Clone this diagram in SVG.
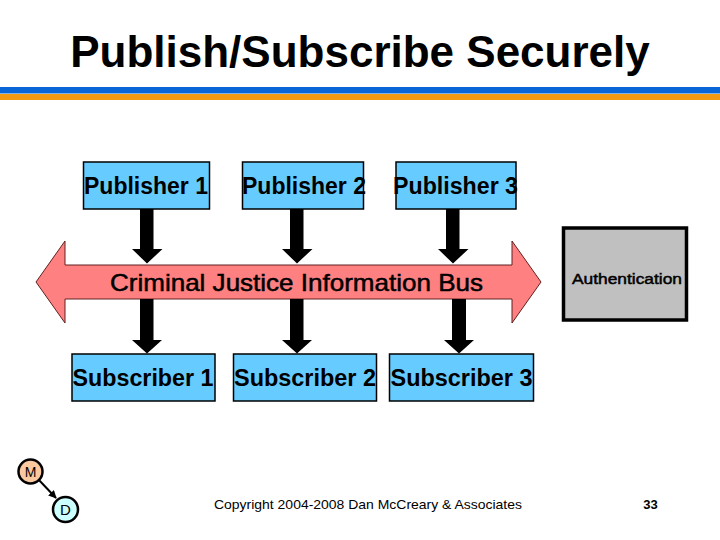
<svg xmlns="http://www.w3.org/2000/svg" width="720" height="540" viewBox="0 0 720 540">
<style>
text{font-family:"Liberation Sans",Arial,sans-serif;fill:#000}
.box{fill:#66CCFF;stroke:#000;stroke-width:1.5}
.lbl{font-size:23px;font-weight:bold}
.arr{fill:#000}
.med{stroke:#000;stroke-width:0.5}
</style>
<defs>
<marker id="ah" viewBox="0 0 10 10" refX="9" refY="5" markerWidth="4" markerHeight="4" orient="auto"><path d="M0,0L10,5L0,10z" fill="#000"/></marker>
</defs>
<rect width="720" height="540" fill="#fff"/>
<text x="360" y="67" font-size="44" font-weight="bold" text-anchor="middle">Publish/Subscribe Securely</text>
<rect x="0" y="87" width="720" height="6.5" fill="#0A66D6"/>
<rect x="0" y="94" width="720" height="6" fill="#F39A12"/>

<g id="bus">
<polygon points="36,282 65,241 65,265 512,265 512,241 541,282 512,323 512,299 65,299 65,323" fill="#FF8080" stroke="#602020" stroke-width="1"/>
<text class="med" x="110" y="291" font-size="24" textLength="373" lengthAdjust="spacingAndGlyphs">Criminal Justice Information Bus</text>
</g>

<g id="auth">
<rect x="563.5" y="228" width="123" height="92" fill="#C0C0C0" stroke="#000" stroke-width="3.5"/>
<text class="med" x="572" y="284" font-size="15.5" stroke-width="0.3" textLength="110" lengthAdjust="spacingAndGlyphs">Authentication</text>
</g>

<g id="pub1"><rect class="box" x="83.5" y="162" width="126" height="47"/><text class="lbl" x="84" y="194" textLength="124" lengthAdjust="spacingAndGlyphs">Publisher 1</text></g>
<g id="pub2"><rect class="box" x="242.5" y="162" width="121" height="47"/><text class="lbl" x="242" y="194" textLength="124" lengthAdjust="spacingAndGlyphs">Publisher 2</text></g>
<g id="pub3"><rect class="box" x="396" y="162" width="120" height="47"/><text class="lbl" x="393" y="194" textLength="125" lengthAdjust="spacingAndGlyphs">Publisher 3</text></g>

<g id="sub1"><rect class="box" x="72" y="354" width="143" height="47"/><text class="lbl" x="72.5" y="385.5" textLength="141" lengthAdjust="spacingAndGlyphs">Subscriber 1</text></g>
<g id="sub2"><rect class="box" x="233.5" y="354" width="143" height="47"/><text class="lbl" x="234" y="385.5" textLength="142" lengthAdjust="spacingAndGlyphs">Subscriber 2</text></g>
<g id="sub3"><rect class="box" x="389.5" y="354" width="144" height="47"/><text class="lbl" x="390.5" y="385.5" textLength="142" lengthAdjust="spacingAndGlyphs">Subscriber 3</text></g>

<g id="connectors">
<polygon class="arr" points="140,209 153.5,209 153.5,249 162.5,249 147,263.5 132,249 140,249"/>
<polygon class="arr" points="290,209 303.5,209 303.5,249 312.5,249 297,263.5 282,249 290,249"/>
<polygon class="arr" points="446,209 459.5,209 459.5,249 468.5,249 453,263.5 438,249 446,249"/>
<polygon class="arr" points="140,299 153.5,299 153.5,340 162,340 147,353.5 132,340 140,340"/>
<polygon class="arr" points="290,299 303.5,299 303.5,340 312,340 297,353.5 282,340 290,340"/>
<polygon class="arr" points="452,299 466,299 466,340 474,340 459,353.5 444,340 452,340"/>
<line x1="38" y1="479" x2="56" y2="498" stroke="#000" stroke-width="2" marker-end="url(#ah)"/>
</g>

<g id="M"><circle cx="30.5" cy="471.5" r="12" fill="#FBC9A0" stroke="#000" stroke-width="2.5"/><text x="30.5" y="477" font-size="14" text-anchor="middle">M</text></g>
<g id="D"><circle cx="65.5" cy="509.5" r="12.5" fill="#CCFFFF" stroke="#000" stroke-width="2.5"/><text x="65.5" y="515" font-size="15" text-anchor="middle">D</text></g>

<text x="214" y="509" font-size="13" textLength="308" lengthAdjust="spacingAndGlyphs">Copyright 2004-2008 Dan McCreary &amp; Associates</text>
<text x="650.5" y="509" font-size="13" font-weight="bold" text-anchor="middle">33</text>
</svg>
